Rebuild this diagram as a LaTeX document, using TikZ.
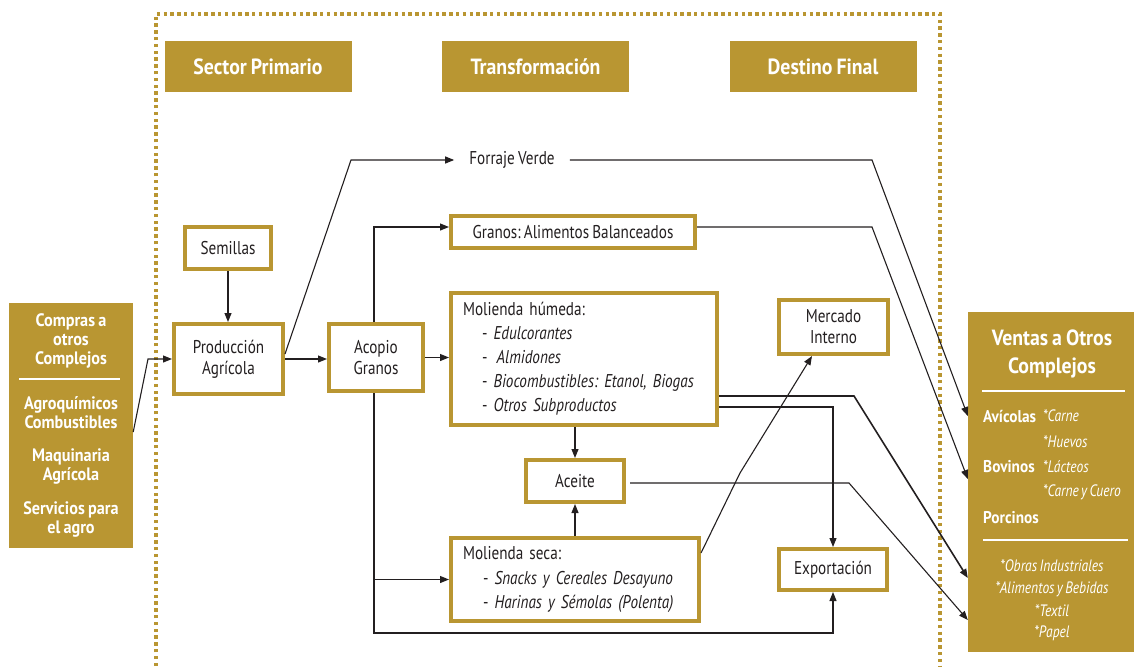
\documentclass[tikz,border=0pt]{standalone}
\usepackage{fontspec}
\setmainfont{PT Sans}[FakeStretch=0.82,WordSpace=0.8,BoldFeatures={FakeStretch=0.9},ItalicFeatures={WordSpace=0.65}]
\frenchspacing
\usetikzlibrary{arrows.meta,calc}
\definecolor{gold}{RGB}{185,150,50}
\definecolor{ink}{RGB}{35,31,32}
\begin{document}
\begin{tikzpicture}[x=1pt,y=-1pt,
  wbox/.style={draw=gold,line width=4pt,fill=white,inner sep=0pt,text=ink,align=center,font=\fontsize{18.5}{21}\selectfont},
  hdr/.style={fill=gold,text=white,font=\bfseries\fontsize{22}{24}\selectfont,minimum width=187,minimum height=51,inner sep=0pt},
  goldbox/.style={fill=gold,inner sep=0pt},
  wtxt/.style={text=white,font=\bfseries\fontsize{18}{19}\selectfont,align=center,inner sep=0pt},
  ntxt/.style={text=white,font=\bfseries\fontsize{17}{19}\selectfont,inner sep=0pt,anchor=west},
  itxt/.style={text=white,font=\itshape\fontsize{16.5}{18}\selectfont,inner sep=0pt},
  conn/.style={draw=ink,line width=1.1pt},
  arr/.style={conn,-{Triangle[length=9pt,width=7pt]}},
]
\useasboundingbox (0,0) rectangle (1134,666);
% dotted frame
\draw[gold,line width=3.4pt,dash pattern=on 3.4pt off 3.4pt] (156,666) -- (156,14) -- (940,14) -- (940,666);
% headers
\node[hdr] (h1) at (258,66.5) {Sector Primario};
\node[hdr] (h2) at (535.5,66.5) {Transformación};
\node[hdr] (h3) at (823,66.5) {Destino Final};
% left box
\node[goldbox,minimum width=124,minimum height=245] (comp) at (71,425.5) {};
\node[wtxt] (l1) at (71,341) {Compras a\\otros\\Complejos};
\draw[white,line width=1.8pt] (19,379) -- (120,379);
\node[wtxt] (l2) at (71,413) {Agroquímicos\\Combustibles};
\node[wtxt] (l3) at (71,467) {Maquinaria\\Agrícola};
\node[wtxt] (l4) at (71,519.5) {Servicios para\\el agro};
% right box
\node[goldbox,minimum width=166,minimum height=340] (vent) at (1051,482) {};
\node[text=white,font=\bfseries\fontsize{22}{28}\selectfont,align=center,inner sep=0pt] (r0) at (1052,354) {Ventas a Otros\\Complejos};
\draw[white,line width=1.5pt] (982,391) -- (1125,391);
\node[ntxt] (ra) at (983,416) {Avícolas};
\node[ntxt] (rb) at (983,467) {Bovinos};
\node[ntxt] (rp) at (983,518) {Porcinos};
\node[itxt,anchor=west] (rc1) at (1043,416) {*Carne};
\node[itxt,anchor=west] (rc2) at (1043,442) {*Huevos};
\node[itxt,anchor=west] (rc3) at (1043,467) {*Lácteos};
\node[itxt,anchor=west] (rc4) at (1043,492) {*Carne y Cuero};
\draw[white,line width=1.5pt] (983,540) -- (1128,540);
\node[itxt] (ro1) at (1052,566) {*Obras Industriales};
\node[itxt] (ro2) at (1052,589) {*Alimentos y Bebidas};
\node[itxt] (ro3) at (1052,611) {*Textil};
\node[itxt] (ro4) at (1052,633) {*Papel};
% white boxes
\node[wbox,minimum width=86,minimum height=42] (sem) at (228,248) {Semillas};
\node[wbox,minimum width=109,minimum height=70] (prod) at (228.5,359) {Producción\\Agrícola};
\node[wbox,minimum width=94,minimum height=67] (acop) at (376,357.5) {Acopio\\Granos};
\node[wbox,minimum width=244,minimum height=32] (gra) at (573,232) {Granos: Alimentos Balanceados};
\node[wbox,minimum width=266,minimum height=132,text width=242,inner xsep=12pt,align=left,font=\fontsize{18.5}{24}\selectfont] (mh) at (584,359)
 {Molienda húmeda:\\
  \hspace*{19pt}- \textit{Edulcorantes}\\
  \hspace*{19pt}- \,\textit{Almidones}\\
  \hspace*{19pt}- \textit{Biocombustibles: Etanol, Biogas}\\
  \hspace*{19pt}- \textit{Otros Subproductos}};
\node[wbox,minimum width=109,minimum height=54] (mi) at (833.5,327) {Mercado\\Interno};
\node[wbox,minimum width=98,minimum height=42] (ace) at (575,481) {Aceite};
\node[wbox,minimum width=248,minimum height=83,text width=224,inner xsep=12pt,align=left,font=\fontsize{18.5}{24.5}\selectfont] (ms) at (575,579.5)
 {Molienda seca:\\
  \hspace*{20pt}- \textit{Snacks y Cereales Desayuno}\\
  \hspace*{20pt}- \textit{Harinas y Sémolas (Polenta)}};
\node[wbox,minimum width=108,minimum height=41] (exp) at (833,569.5) {Exportación};
\node[text=ink,font=\fontsize{18.5}{21}\selectfont,inner xsep=15pt,inner ysep=0pt] (fv) at (512,160) {Forraje Verde};
% helper coordinates
\coordinate (vx) at (374,0);
\coordinate (bl) at (374,633);
% connectors
\draw[arr] ([yshift=-6.5pt]comp.east) -- (148,359) -- (prod.west);
\draw[arr] (sem.south) -- (sem.south |- prod.north);
\draw[arr] (prod.east) -- (prod.east -| acop.west);
\draw[arr] ([yshift=5pt]prod.east) -- (351,160) -- (fv.west);
\draw[arr] (acop.north -| vx) -- (374,227) -- ([yshift=5pt]gra.west);
\draw[arr] (acop.east) -- (acop.east -| mh.west);
\draw[arr] (acop.south -| vx) -- (bl) -- (bl -| exp.south) -- (exp.south);
\draw[arr] (vx |- ms.west) -- (ms.west);
\draw[arr] (mh.south -| ace.north) -- (ace.north);
\draw[arr] (ms.north -| ace.south) -- (ace.south);
\draw[arr] ([yshift=26.5pt]ms.east) -- (740,473) -- ([xshift=-21.5pt]mi.south);
\draw[arr,line width=1.6pt] ([yshift=-37pt]mh.east) -- (854,396) -- ([yshift=-96pt]vent.west);
\draw[arr] ([yshift=-48pt]mh.east) -| (exp.north);
\draw[arr] ([yshift=-2pt,xshift=4pt]ace.east) -- (849,483) -- ([yshift=-138pt]vent.west);
\draw[arr] (fv.east) -- (872,160) -- ([yshift=66pt]vent.west);
\draw[arr] ([yshift=5pt]gra.east) -- (872,227) -- ([yshift=3pt]vent.west);
\end{tikzpicture}
\end{document}
